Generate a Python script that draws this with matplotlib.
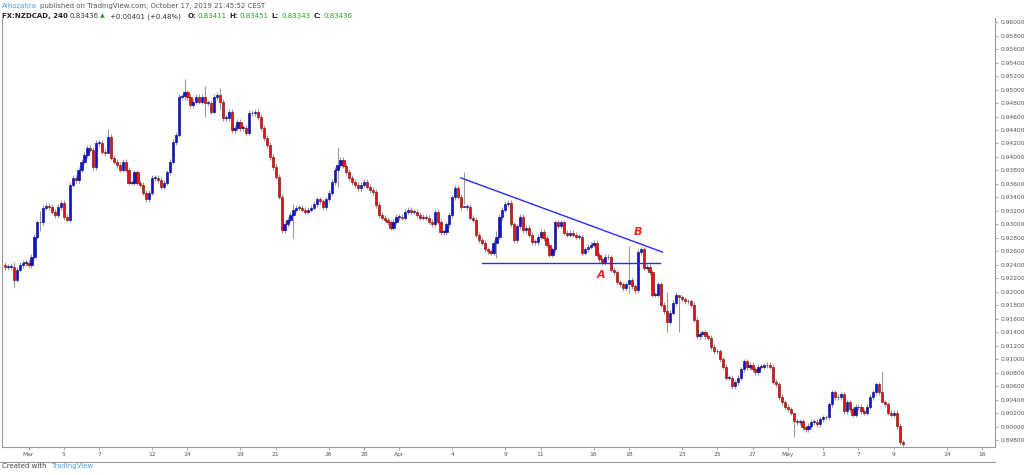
import matplotlib
matplotlib.use("Agg")
import matplotlib.pyplot as plt
import numpy as np

closes = [
 0.9237,0.9237,0.9237,0.9218,0.9233,0.9240,0.9243,0.9243,0.9240,0.9252,
 0.9282,0.9303,0.9303,0.9325,0.9328,0.9326,0.9319,0.9314,0.9326,0.9332,
 0.9311,0.9307,0.9359,0.9369,0.9366,0.9381,0.9393,0.9403,0.9414,0.9411,
 0.9385,0.9421,0.9421,0.9408,0.9406,0.9430,0.9399,0.9393,0.9388,0.9381,
 0.9393,0.9381,0.9362,0.9362,0.9377,0.9362,0.9359,0.9347,0.9337,0.9347,
 0.9369,0.9369,0.9366,0.9356,0.9362,0.9377,0.9393,0.9422,0.9433,0.9489,
 0.9490,0.9496,0.9489,0.9477,0.9482,0.9489,0.9482,0.9489,0.9480,0.9480,
 0.9467,0.9489,0.9492,0.9482,0.9458,0.9458,0.9467,0.9440,0.9443,0.9452,
 0.9443,0.9443,0.9436,0.9465,0.9465,0.9467,0.9459,0.9443,0.9428,0.9418,
 0.9400,0.9385,0.9371,0.9341,
 0.9292,0.9300,0.9307,0.9314,0.9322,0.9325,0.9325,0.9322,0.9319,0.9322,
 0.9325,0.9330,0.9337,0.9334,0.9326,0.9337,0.9347,0.9363,0.9381,0.9388,
 0.9396,0.9387,0.9378,0.9369,0.9363,0.9359,0.9354,0.9359,0.9363,0.9356,
 0.9351,0.9348,0.9329,0.9314,0.9310,0.9307,0.9303,0.9295,0.9304,0.9311,
 0.9311,0.9310,0.9319,0.9322,0.9319,0.9319,0.9314,0.9310,0.9311,0.9310,
 0.9304,0.9300,0.9319,0.9304,0.9289,0.9289,0.9300,0.9314,0.9340,0.9354,
 0.9341,0.9326,0.9326,
 0.9326,0.9310,0.9307,0.9285,0.9277,0.9273,0.9263,0.9260,0.9258,0.9273,
 0.9282,0.9311,0.9322,0.9330,0.9332,0.9300,0.9277,0.9297,0.9311,0.9292,
 0.9295,0.9285,0.9274,0.9274,0.9282,0.9289,0.9280,0.9270,0.9255,0.9263,
 0.9303,0.9298,0.9303,0.9288,0.9285,0.9288,0.9285,0.9282,0.9282,0.9258,
 0.9263,0.9267,0.9270,0.9273,0.9255,0.9248,0.9244,0.9252,0.9251,0.9233,
 0.9229,0.9214,0.9211,0.9206,0.9211,0.9218,0.9208,0.9203,0.9259,0.9263,
 0.9236,0.9237,
 0.9229,0.9196,0.9196,0.9211,0.9181,0.9171,0.9156,0.9169,0.9184,0.9196,
 0.9192,0.9189,0.9186,0.9186,0.9181,0.9159,0.9134,0.9137,0.9140,0.9134,
 0.9132,0.9118,0.9112,0.9112,0.9100,0.9089,0.9073,0.9073,0.9060,0.9066,
 0.9073,0.9085,0.9097,0.9088,0.9092,0.9085,0.9081,0.9089,0.9089,0.9091,
 0.9092,0.9089,0.9067,0.9063,0.9044,0.9036,0.9030,0.9026,0.9021,0.9008,
 0.9007,0.9008,0.8999,0.8996,0.9001,0.9007,0.9007,0.9004,0.9011,0.9014,
 0.9014,0.9033,0.9051,0.9044,0.9044,0.9048,0.9023,0.9036,0.9026,0.9018,
 0.9029,0.9029,0.9023,0.9021,0.9030,0.9044,0.9051,0.9063,0.9051,0.9036,
 0.9033,0.9021,0.9018,0.9021,0.9001,0.8977,0.8974,
]
first_open = 0.9240
long_wicks = {3: (0.9245, 0.9207), 12: (0.9320, 0.9290), 35: (0.9442, 0.9415),
              61: (0.9515, 0.9485), 68: (0.9505, 0.9460), 73: (0.9503, 0.9470),
              98: (0.9330, 0.9280), 113: (0.9415, 0.9355), 156: (0.9378, 0.9330),
              167: (0.9290, 0.9250), 212: (0.9268, 0.9198), 225: (0.9200, 0.9140),
              229: (0.9193, 0.9140), 298: (0.9082, 0.9040), 268: (0.9010, 0.8985)}
day_labels = ["Mar","5","7","12","14","19","21","26","28","Apr","4","9","11","16","18",
              "23","25","27","May","3","7","9","14","16"]
day_offsets = [0,2,4,7,9,12,14,17,19,21,24,27,29,32,34,37,39,41,43,45,47,49,52,54]
first_day_candle = 8
candles_per_day = 6
upper_line_idx = [154.9, 223.4]
upper_line_px = [0.9369, 0.9259]
base_line_idx = [162.0, 222.4]
base_line_px = [0.9243, 0.9243]
price_ticks = [round(0.898 + 0.002*k, 3) for k in range(32)]

fig = plt.figure(figsize=(10.24, 4.75), dpi=100)
ax = fig.add_axes([0.002, 0.059, 0.970, 0.903])
opens = [first_open] + closes[:-1]
for i, (o, c) in enumerate(zip(opens, closes)):
    hi, lo = long_wicks.get(i, (max(o, c) + 0.0004, min(o, c) - 0.0004))
    ax.vlines(i, lo, hi, color="#9a9a9a", lw=0.8, zorder=1)
    col = "#1010d8" if c >= o else "#e81010"
    edge = "#00007a" if c >= o else "#7a0000"
    h = abs(c - o) if abs(c - o) > 0.00008 else 0.00008
    ax.bar(i, h, bottom=min(o, c), width=0.75, color=col, edgecolor=edge, lw=0.4, zorder=2)

ax.plot(upper_line_idx, upper_line_px, color="#2a2aff", lw=1.0, zorder=3)
ax.plot(base_line_idx, base_line_px, color="#2a2aff", lw=1.0, zorder=3)
ax.text(202.5, 0.9232, "A", color="#f02020", fontsize=8, style="italic", fontweight="bold", ha="center", va="top")
ax.text(215, 0.9282, "B", color="#f02020", fontsize=8, style="italic", fontweight="bold", ha="center", va="bottom")

ax.set_xlim(-1, 336.5)
ax.set_ylim(0.8970, 0.9606)
ax.yaxis.tick_right()
ax.set_yticks(price_ticks)
ax.set_yticklabels([f"{t:.5f}" for t in price_ticks])
ax.set_xticks([first_day_candle + candles_per_day*d for d in day_offsets])
ax.set_xticklabels(day_labels)
ax.tick_params(axis="both", labelsize=4.3, colors="#888888", length=2, width=0.5, labelcolor="#555555", pad=1.5)
for s in ax.spines.values():
    s.set_color("#999999"); s.set_linewidth(0.8)
ax.spines["top"].set_visible(False)

fig.text(0.002, 0.993, "Alhozahra", color="#4aa3df", fontsize=5, va="top")
fig.text(0.039, 0.993, "published on TradingView.com, October 17, 2019 21:45:52 CEST", color="#555555", fontsize=5, va="top")
fig.text(0.002, 0.972, "FX:NZDCAD, 240", color="#222222", fontsize=5, fontweight="bold", va="top")
fig.text(0.068, 0.972, "0.83436", color="#333333", fontsize=5, va="top")
fig.text(0.098, 0.972, "\u25b2", color="#2aa02a", fontsize=4.5, va="top")
fig.text(0.107, 0.972, "+0.00401 (+0.48%)", color="#333333", fontsize=5, va="top")
xs = 0.183
for lab, val in [("O:", "0.83411"), ("H:", "0.83451"), ("L:", "0.83343"), ("C:", "0.83436")]:
    fig.text(xs, 0.972, lab, color="#222222", fontsize=5, fontweight="bold", va="top")
    fig.text(xs + 0.010, 0.972, val, color="#2aa02a", fontsize=5, va="top")
    xs += 0.041
fig.text(0.002, 0.012, "Created with", color="#444444", fontsize=5, va="bottom")
fig.text(0.050, 0.012, "TradingView", color="#4aa3df", fontsize=5, va="bottom")
fig.add_artist(plt.Line2D([0, 0.972], [0.027, 0.027], color="#999999", lw=0.8))
fig.savefig("out.png", dpi=100, facecolor="white")
